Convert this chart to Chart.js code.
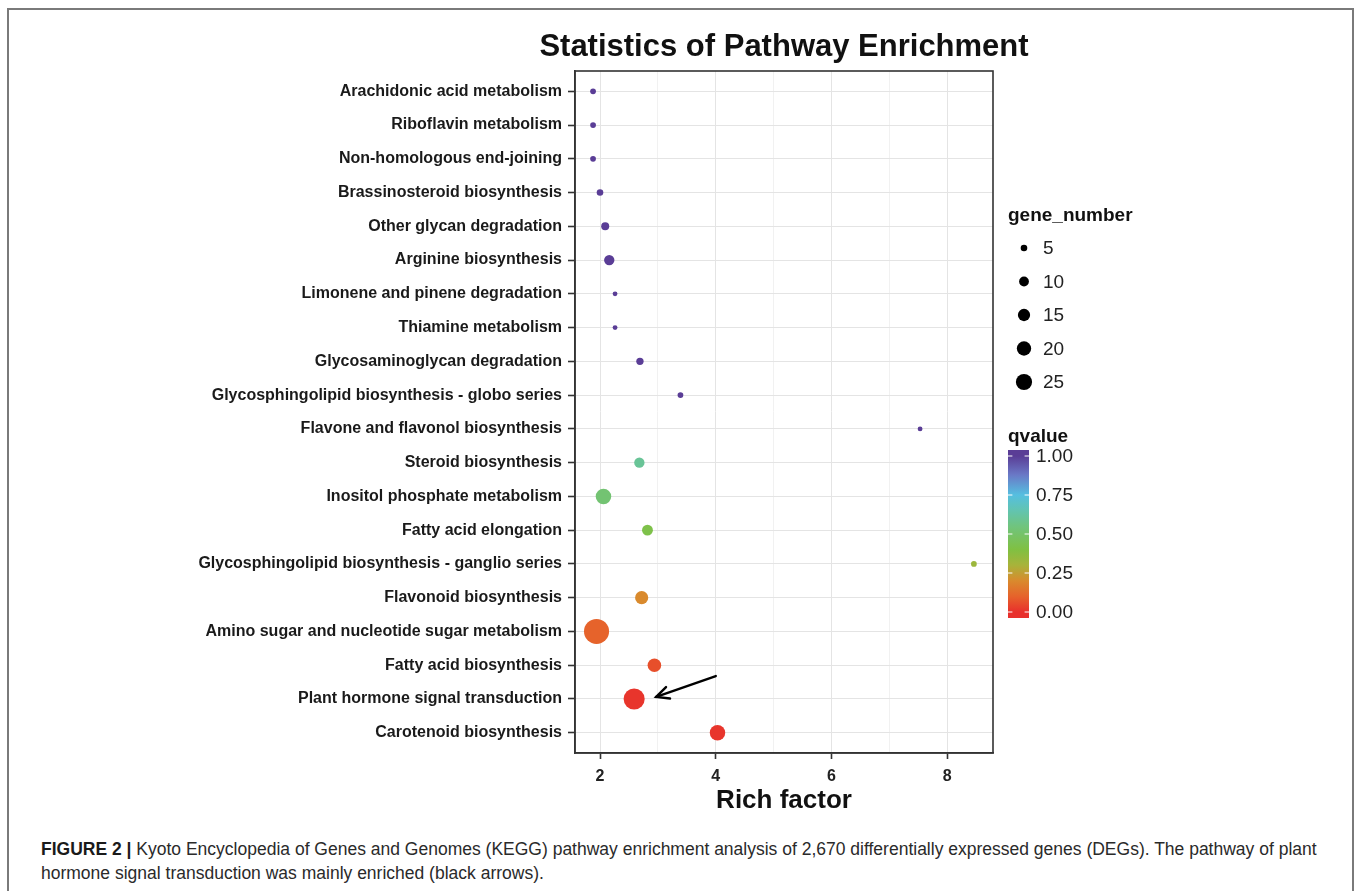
<!DOCTYPE html>
<html>
<head>
<meta charset="utf-8">
<title>Statistics of Pathway Enrichment</title>
<script src="https://cdn.jsdelivr.net/npm/chart.js@4.4.1/dist/chart.umd.min.js"></script>
<style>
  html, body { margin: 0; padding: 0; background: #fff; width: 1360px; height: 891px; overflow: hidden; }
  #wrap { position: relative; width: 1360px; height: 891px; }
  #frame { position: absolute; left: 7px; top: 8px; width: 1347px; height: 900px;
           border: 2.5px solid #7a7a7a; border-bottom: none; box-sizing: border-box; }
  #c { position: absolute; left: 0; top: 0; }
  #caption { position: absolute; left: 41px; top: 837px; font-family: "Liberation Sans", Arial, sans-serif;
             font-size: 17.5px; line-height: 24px; color: #2a2a2a; white-space: nowrap; }
  #caption b { font-weight: bold; color: #1a1a1a; }
</style>
</head>
<body>
<div id="wrap">
  <div id="frame"></div>
  <canvas id="c" width="1360" height="830"></canvas>
  <div id="caption"><b>FIGURE 2 |</b> Kyoto Encyclopedia of Genes and Genomes (KEGG) pathway enrichment analysis of 2,670 differentially expressed genes (DEGs). The pathway of plant<br>hormone signal transduction was mainly enriched (black arrows).</div>
</div>
<script>
// KEGG pathways, top to bottom
const pathways = [
  'Arachidonic acid metabolism',
  'Riboflavin metabolism',
  'Non-homologous end-joining',
  'Brassinosteroid biosynthesis',
  'Other glycan degradation',
  'Arginine biosynthesis',
  'Limonene and pinene degradation',
  'Thiamine metabolism',
  'Glycosaminoglycan degradation',
  'Glycosphingolipid biosynthesis - globo series',
  'Flavone and flavonol biosynthesis',
  'Steroid biosynthesis',
  'Inositol phosphate metabolism',
  'Fatty acid elongation',
  'Glycosphingolipid biosynthesis - ganglio series',
  'Flavonoid biosynthesis',
  'Amino sugar and nucleotide sugar metabolism',
  'Fatty acid biosynthesis',
  'Plant hormone signal transduction',
  'Carotenoid biosynthesis'
];
const richFactor = [1.88, 1.88, 1.88, 2.00, 2.09, 2.16, 2.26, 2.26, 2.69, 3.39,
                    7.53, 2.68, 2.06, 2.82, 8.46, 2.72, 1.94, 2.94, 2.59, 4.03];
const geneNumber = [4, 4, 4, 5, 7, 11, 3, 3, 6, 4,
                    3, 11, 23, 12, 4, 17, 57, 18, 41, 23];
const qValue     = [1.00, 1.00, 1.00, 1.00, 1.00, 1.00, 1.00, 1.00, 1.00, 1.00,
                    1.00, 0.60, 0.52, 0.42, 0.33, 0.20, 0.10, 0.06, 0.01, 0.01];

const xTickValues = [2, 3, 4, 5, 6, 7, 8];
const sizeBreaks = [5, 10, 15, 20, 25];
const qBreaks = [1.00, 0.75, 0.50, 0.25, 0.00];

// colour ramp for qvalue (0 = red, 1 = purple)
const qPalette = [
  [0.00, '#e8302c'], [0.10, '#e6632b'], [0.20, '#d98a2d'], [0.30, '#a8b33a'],
  [0.40, '#80c042'], [0.55, '#70c47e'], [0.65, '#62c4b0'], [0.75, '#55bfe0'],
  [0.88, '#6a78c6'], [1.00, '#5a3d96']
];
function hexToRgb(h) { const n = parseInt(h.slice(1), 16); return [(n >> 16) & 255, (n >> 8) & 255, n & 255]; }
function qColor(q) {
  for (let i = 1; i < qPalette.length; i++) {
    if (q <= qPalette[i][0]) {
      const [q0, c0] = qPalette[i - 1], [q1, c1] = qPalette[i];
      const t = (q - q0) / (q1 - q0), a = hexToRgb(c0), b = hexToRgb(c1);
      return `rgb(${a.map((v, k) => Math.round(v + (b[k] - v) * t)).join(',')})`;
    }
  }
  return qPalette[qPalette.length - 1][1];
}
// point radius from gene count
function sizeFor(g) { return Math.max(1.8, -0.6 + 1.74 * Math.sqrt(g)); }

const FONT = '"Liberation Sans", Arial, Helvetica, sans-serif';

// highlight arrow pointing at plant hormone signal transduction (data units: rich factor, row index)
const arrowTail = { x: 4.00, y: 17.32 };
const arrowHead = { x: 2.97, y: 17.94 };

const decor = {
  id: 'decor',
  afterDraw(chart) {
    const { ctx, chartArea: a, scales: { x, y } } = chart;
    ctx.save();
    // panel border
    ctx.strokeStyle = '#333';
    ctx.lineWidth = 1.6;
    ctx.strokeRect(a.left, a.top, a.right - a.left, a.bottom - a.top);

    // arrow
    const tx = x.getPixelForValue(arrowTail.x), ty = y.getPixelForValue(arrowTail.y);
    const hx = x.getPixelForValue(arrowHead.x), hy = y.getPixelForValue(arrowHead.y);
    const ang = Math.atan2(hy - ty, hx - tx);
    ctx.strokeStyle = '#000';
    ctx.lineWidth = 2.4;
    ctx.lineCap = 'round';
    ctx.beginPath(); ctx.moveTo(tx, ty); ctx.lineTo(hx, hy); ctx.stroke();
    ctx.beginPath();
    ctx.moveTo(hx - 14 * Math.cos(ang - 0.45), hy - 14 * Math.sin(ang - 0.45));
    ctx.lineTo(hx, hy);
    ctx.lineTo(hx - 14 * Math.cos(ang + 0.45), hy - 14 * Math.sin(ang + 0.45));
    ctx.stroke();

    // title
    ctx.fillStyle = '#111';
    ctx.font = 'bold 31px ' + FONT;
    ctx.textAlign = 'center';
    ctx.textBaseline = 'alphabetic';
    ctx.fillText('Statistics of Pathway Enrichment', (a.left + a.right) / 2, 56);

    // size legend
    const lx = 1008;
    ctx.textAlign = 'left';
    ctx.textBaseline = 'middle';
    ctx.font = 'bold 19px ' + FONT;
    ctx.fillText('gene_number', lx, 216);
    ctx.font = '19px ' + FONT;
    sizeBreaks.forEach((g, i) => {
      const cy = 248 + i * 33.5;
      ctx.fillStyle = '#000';
      ctx.beginPath(); ctx.arc(lx + 16, cy, sizeFor(g), 0, Math.PI * 2); ctx.fill();
      ctx.fillStyle = '#222';
      ctx.fillText(String(g), lx + 35, cy + 1);
    });

    // colour bar legend
    ctx.fillStyle = '#111';
    ctx.font = 'bold 19px ' + FONT;
    ctx.fillText('qvalue', lx, 437);
    const barTop = 450, barBot = 618, barW = 21;
    const q1y = 456, q0y = 612;
    const grad = ctx.createLinearGradient(0, q1y, 0, q0y);
    qPalette.forEach(([q, c]) => grad.addColorStop(1 - q, c));
    ctx.fillStyle = grad;
    ctx.fillRect(lx, barTop, barW, barBot - barTop);
    ctx.strokeStyle = '#fff';
    ctx.lineWidth = 1;
    ctx.font = '19px ' + FONT;
    qBreaks.forEach(q => {
      const yy = q0y + (q1y - q0y) * q;
      ctx.beginPath();
      ctx.moveTo(lx, yy); ctx.lineTo(lx + 4, yy);
      ctx.moveTo(lx + barW - 4, yy); ctx.lineTo(lx + barW, yy);
      ctx.stroke();
      ctx.fillStyle = '#222';
      ctx.fillText(q.toFixed(2), lx + 28, yy + 1);
    });
    ctx.restore();
  }
};

const points = pathways.map((p, i) => ({ x: richFactor[i], y: i, r: sizeFor(geneNumber[i]) }));

new Chart(document.getElementById('c'), {
  type: 'bubble',
  data: {
    datasets: [{
      data: points,
      backgroundColor: qValue.map(qColor),
      borderWidth: 0,
      hoverRadius: 0
    }]
  },
  options: {
    responsive: false,
    animation: false,
    events: [],
    layout: { padding: { left: 0, top: 71, right: 367, bottom: 14 } },
    plugins: { legend: { display: false }, tooltip: { enabled: false } },
    scales: {
      x: {
        type: 'linear',
        min: 1.568,
        max: 8.79,
        afterBuildTicks: s => { s.ticks = xTickValues.map(v => ({ value: v })); },
        afterFit: s => { s.height = 63; },
        grid: {
          color: c => (c.tick && c.tick.value % 2 === 0) ? '#e4e4e4' : '#f1f1f1',
          lineWidth: 1,
          drawTicks: true,
          tickLength: 6,
          tickWidth: 1.6,
          tickColor: c => (c.tick && c.tick.value % 2 === 0) ? '#333' : 'rgba(0,0,0,0)'
        },
        border: { display: true, color: '#333', width: 1.6 },
        ticks: {
          autoSkip: false,
          maxRotation: 0,
          padding: 8,
          color: '#222',
          font: { family: FONT, size: 16, weight: 'bold' },
          callback: v => (v % 2 === 0 ? String(v) : '')
        },
        title: {
          display: true,
          text: 'Rich factor',
          color: '#111',
          font: { family: FONT, size: 26, weight: 'bold' },
          padding: { top: 0, bottom: 0 }
        }
      },
      y: {
        type: 'linear',
        reverse: true,
        min: -0.6,
        max: pathways.length - 0.4,
        afterBuildTicks: s => { s.ticks = pathways.map((p, i) => ({ value: i })); },
        afterFit: s => { s.width = 575; },
        grid: {
          color: '#e4e4e4',
          lineWidth: 1,
          drawTicks: true,
          tickLength: 7,
          tickWidth: 1.6,
          tickColor: '#333'
        },
        border: { display: true, color: '#333', width: 1.6 },
        ticks: {
          autoSkip: false,
          padding: 6,
          color: '#1a1a1a',
          font: { family: FONT, size: 16, weight: 'bold' },
          callback: v => pathways[v] ?? ''
        }
      }
    }
  },
  plugins: [decor]
});
</script>
</body>
</html>
